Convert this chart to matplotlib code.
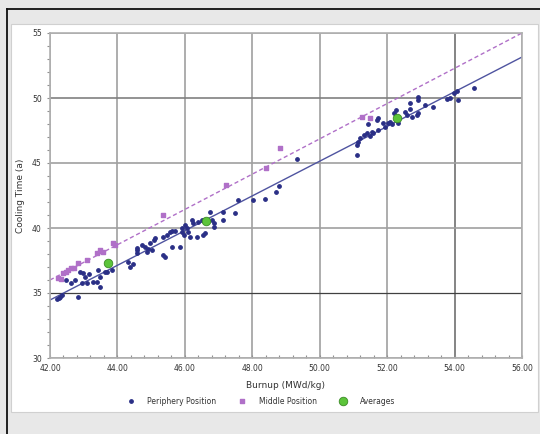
import matplotlib
matplotlib.use("Agg")
import matplotlib.pyplot as plt
from matplotlib.patches import Rectangle
from matplotlib.lines import Line2D
from matplotlib.ticker import MultipleLocator, FormatStrFormatter

# Periphery position samples (burnup MWd/kg, cooling time a)
periphery_x = [42.22, 42.26, 42.30, 42.35, 42.47, 42.61, 42.74, 42.84, 42.89, 42.99,
               42.94, 43.04, 43.09, 43.15, 43.29, 43.38, 43.43, 43.48, 43.48, 43.62,
               43.68, 43.83, 44.32, 44.37, 44.45, 44.59, 44.59, 44.57, 44.72, 44.82,
               44.87, 44.92, 44.97, 45.07, 45.11, 45.02, 45.36, 45.46, 45.56, 45.61,
               45.36, 45.41, 45.61, 45.86, 45.91, 45.91, 45.96, 46.01, 46.10, 46.15,
               46.20, 46.35, 46.40, 46.50, 46.60, 46.75, 46.85, 46.80, 46.55, 46.05,
               45.70, 46.25, 46.85, 47.14, 47.14, 47.49, 47.59, 48.03, 48.38, 48.71,
               48.80, 49.32, 51.10, 51.10, 51.15, 51.20, 51.30, 51.44, 51.49, 51.54,
               51.59, 51.69, 51.74, 51.74, 51.89, 52.04, 52.09, 52.19, 52.27, 52.33,
               52.53, 52.58, 52.68, 52.73, 52.88, 52.93, 52.68, 52.93, 52.93, 53.13,
               53.37, 53.77, 53.87, 53.97, 54.07, 54.11, 54.59, 51.95, 52.15, 51.40]
periphery_y = [34.51, 34.62, 34.72, 34.85, 36.00, 35.74, 36.00, 34.72, 36.64, 36.51,
               35.74, 36.26, 35.80, 36.45, 35.87, 35.87, 36.77, 36.26, 35.49, 36.60,
               36.64, 36.77, 37.41, 37.03, 37.25, 38.30, 38.05, 38.44, 38.69, 38.56,
               38.18, 38.40, 38.82, 39.08, 39.20, 38.30, 39.33, 39.46, 39.72, 39.77,
               37.92, 37.80, 38.56, 38.56, 39.97, 39.72, 39.46, 40.23, 39.72, 39.33,
               40.62, 39.33, 40.49, 40.62, 39.59, 41.26, 40.36, 40.62, 39.46, 40.00,
               39.80, 40.40, 40.10, 41.26, 40.61, 41.13, 42.15, 42.15, 42.20, 42.74,
               43.23, 45.31, 45.62, 46.39, 46.64, 46.90, 47.16, 48.00, 47.08, 47.41,
               47.28, 48.31, 48.44, 47.54, 48.05, 48.05, 48.18, 48.82, 49.08, 48.10,
               48.95, 48.69, 49.13, 48.56, 48.69, 48.82, 49.59, 50.05, 49.85, 49.46,
               49.28, 49.92, 49.97, 50.36, 50.56, 49.85, 50.80, 47.80, 48.00, 47.30]

# Middle position samples
middle_x = [42.25, 42.32, 42.40, 42.47, 42.54, 42.61, 42.70, 42.84, 43.09, 43.40,
            43.48, 43.58, 43.88, 43.93, 45.34, 47.21, 48.40, 48.82, 51.25, 51.49]
middle_y = [36.13, 36.10, 36.56, 36.65, 36.77, 36.90, 36.95, 37.28, 37.54, 38.10,
            38.31, 38.18, 38.82, 38.69, 41.00, 43.30, 44.64, 46.13, 48.56, 48.50]

# Group averages
avg_x = [43.73, 46.63, 52.28]
avg_y = [37.28, 40.54, 48.43]

# Linear trend lines (end points)
fit_x = [42.0, 56.0]
periphery_fit = [34.46, 53.15]
middle_fit = [36.0, 55.0]

NAVY = "#2a2f86"
PURPLE = "#b070c8"
GREEN = "#5cc43a"
TXT = "#333333"

fig = plt.figure(figsize=(5.4, 4.34), dpi=100)
fig.patch.set_facecolor("#e8e8e8")

# outer frame and white panel
fig.add_artist(Line2D([7 / 540, 7 / 540], [0, 1 - 9 / 434], transform=fig.transFigure,
                      color="#111111", lw=1.3))
fig.add_artist(Line2D([7 / 540, 1], [1 - 9 / 434, 1 - 9 / 434], transform=fig.transFigure,
                      color="#111111", lw=1.3))
fig.add_artist(Rectangle((11 / 540, 1 - 412 / 434), 527 / 540, 388 / 434,
                         transform=fig.transFigure, facecolor="white",
                         edgecolor="#d0d0d0", lw=0.8, zorder=0))

ax = fig.add_axes([50 / 540, 1 - 358 / 434, 472 / 540, 325 / 434])
ax.set_facecolor("white")

ax.plot(fit_x, middle_fit, color=PURPLE, lw=1.0, ls=(0, (3, 2)), zorder=2)
ax.plot(fit_x, periphery_fit, color="#4f54a0", lw=1.0, zorder=2)

ax.scatter(periphery_x, periphery_y, s=6, color=NAVY, marker="o", zorder=3,
           label="Periphery Position")
ax.scatter(middle_x, middle_y, s=5, color=PURPLE, marker="s", zorder=3,
           label="Middle Position")
ax.scatter(avg_x, avg_y, s=38, color=GREEN, edgecolor="#3a8a25", lw=0.6, zorder=4,
           label="Averages")

ax.set_xlim(42, 56)
ax.set_ylim(30, 55)
ax.xaxis.set_major_locator(MultipleLocator(2))
ax.xaxis.set_minor_locator(MultipleLocator(0.4))
ax.yaxis.set_major_locator(MultipleLocator(5))
ax.yaxis.set_minor_locator(MultipleLocator(1))
ax.xaxis.set_major_formatter(FormatStrFormatter("%.2f"))

ax.grid(True, which="major", color="#a0a0a0", lw=1.2)
ax.set_axisbelow(True)
for val, line in zip(ax.get_yticks(), ax.get_ygridlines()):
    if val == 50:
        line.set_color("#808080")
    elif val == 35:
        line.set_color("#404040")
        line.set_linewidth(0.9)
for val, line in zip(ax.get_xticks(), ax.get_xgridlines()):
    if val == 54:
        line.set_color("#707070")

for sp in ax.spines.values():
    sp.set_color("#b0b0b0")
    sp.set_linewidth(1.2)

ax.tick_params(which="both", colors="#909090", labelcolor=TXT, labelsize=5.5,
               direction="out", length=2.5, width=0.8)
ax.tick_params(axis="x", which="both", direction="in", pad=4)

ax.set_xlabel("Burnup (MWd/kg)", fontsize=6.5, color=TXT, labelpad=6)
ax.set_ylabel("Cooling Time (a)", fontsize=6.5, color=TXT, labelpad=5)

fig.legend(loc="center", bbox_to_anchor=(0.48, 1 - 401 / 434), ncol=3, frameon=False,
           fontsize=5.5, handletextpad=1.2, columnspacing=2.4, markerscale=1.0,
           labelcolor=TXT)

fig.savefig("out.png", dpi=100, facecolor=fig.get_facecolor())
